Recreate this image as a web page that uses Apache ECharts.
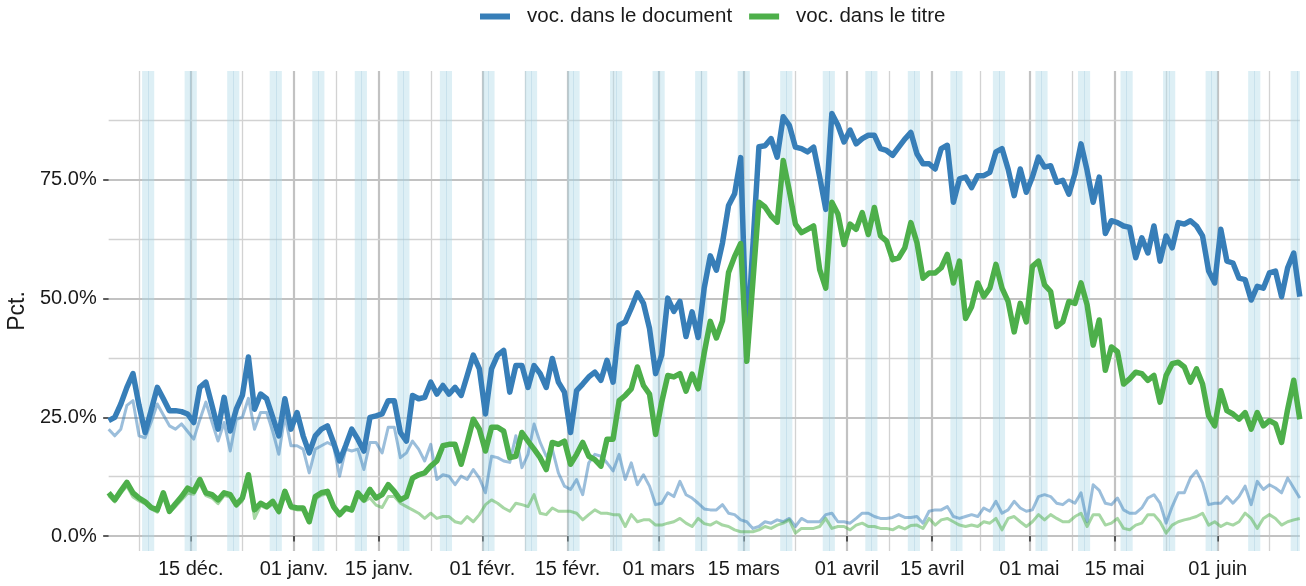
<!DOCTYPE html>
<html><head><meta charset="utf-8">
<script src="https://cdn.jsdelivr.net/npm/echarts@6/dist/echarts.min.js"></script>
<style>html,body{margin:0;padding:0;background:#fff}#c{width:1306px;height:586px}</style>
</head><body><div id="c"></div><script>
// first plotted day (index 0); each value is one day
const startDate = '2019-12-01';
const tickDates = ['2019-12-15','2020-01-01','2020-01-15','2020-02-01','2020-02-15','2020-03-01','2020-03-15','2020-04-01','2020-04-15','2020-05-01','2020-05-15','2020-06-01'];
const tickLabels = ['15 déc.','01 janv.','15 janv.','01 févr.','15 févr.','01 mars','15 mars','01 avril','15 avril','01 mai','15 mai','01 juin'];
const yTicks = [0, 25, 50, 75];
const yMinorTicks = [12.5, 37.5, 62.5, 87.5];

const docMain = [
24.3,25.0,27.8,31.3,34.2,27.5,21.8,26.5,31.3,28.9,
26.4,26.4,26.2,25.7,23.9,31.3,32.4,27.5,22.5,29.2,
22.1,26.7,29.6,37.7,26.7,29.9,28.9,25.0,21.1,28.9,
22.5,26.0,21.1,17.5,21.1,22.5,23.2,19.7,15.8,19.0,
22.5,20.4,17.9,25.0,25.3,25.7,28.5,28.5,21.8,20.0,
29.6,28.9,29.2,32.4,29.9,31.7,29.9,31.3,29.6,33.8,
38.1,35.2,25.7,35.2,38.1,39.1,30.3,35.9,35.9,31.3,
35.9,34.2,31.3,37.4,32.4,30.3,21.8,30.6,32.0,33.5,
34.5,32.8,37.0,32.4,44.4,45.1,48.0,51.2,49.0,43.7,
34.2,38.1,50.1,47.3,49.4,42.0,47.2,41.8,52.3,59.0,
56.0,61.7,69.6,72.1,79.7,40.0,61.0,82.0,82.2,83.7,
79.8,88.3,86.5,81.9,81.6,80.9,81.9,75.6,68.8,89.0,
86.5,83.0,85.5,82.6,83.7,84.4,84.4,81.6,81.2,80.2,
81.9,83.6,85.0,80.5,78.4,78.4,77.3,81.6,82.3,70.3,
75.2,75.6,73.4,75.9,75.9,76.6,80.9,81.6,77.3,71.7,
77.3,72.4,75.6,79.8,77.7,78.0,74.5,74.9,72.0,76.3,
82.6,77.0,70.3,75.6,63.7,66.4,66.0,65.3,65.0,58.6,
62.8,59.6,65.3,57.9,63.2,60.7,66.0,65.7,66.4,65.3,
63.2,55.8,53.3,64.6,57.9,57.5,54.3,54.0,49.7,52.6,
52.2,55.4,55.8,50.4,56.5,59.6,50.4];

const titleMain = [
9.1,7.6,9.5,11.3,9.1,8.0,7.2,6.0,5.5,9.1,
5.2,6.8,8.3,10.1,9.4,11.9,9.1,8.7,7.6,9.1,
8.7,6.6,8.0,12.9,5.5,6.9,6.2,7.3,5.2,9.4,
6.2,5.9,5.9,3.0,8.3,9.1,9.4,6.2,4.5,5.9,
5.5,9.1,7.6,9.8,8.0,8.7,10.8,9.4,7.6,8.3,
12.2,12.9,13.3,14.7,15.8,19.0,19.3,19.3,15.1,19.7,
24.6,22.5,17.9,22.9,22.9,22.1,16.5,16.8,21.8,20.0,
18.3,16.5,14.0,19.7,19.3,20.0,15.1,17.2,19.7,16.8,
16.1,14.7,20.4,20.4,28.5,29.6,31.0,35.6,31.7,29.9,
21.4,28.2,33.8,33.5,34.2,30.5,34.1,31.0,38.6,45.2,
41.7,45.3,55.5,58.9,61.6,36.8,53.5,70.3,69.3,67.4,
66.1,79.1,72.7,65.7,63.9,64.6,65.3,56.1,52.2,70.3,
67.8,61.4,65.7,64.6,68.1,63.5,69.2,63.2,62.1,58.2,
58.6,60.7,66.0,61.8,54.3,55.4,55.4,56.5,59.3,53.3,
57.9,45.8,48.3,53.3,50.4,52.2,57.2,52.2,49.4,43.0,
49.0,45.1,56.8,57.9,52.9,51.5,44.1,45.1,49.4,49.0,
53.3,48.7,40.2,45.5,34.9,39.8,38.8,32.0,33.1,34.5,
34.2,32.8,33.8,28.2,33.8,36.3,36.6,35.6,32.4,35.2,
32.0,25.3,23.2,30.6,26.4,25.7,24.6,26.0,22.5,26.0,
23.2,24.3,23.6,19.7,26.7,32.8,24.6];

const docLight = [
22.5,21.1,22.5,27.5,28.5,21.1,20.7,24.0,27.8,25.5,
23.2,22.5,23.6,22.0,20.4,24.5,28.2,24.0,20.0,23.9,
17.9,24.6,25.0,29.0,22.5,26.0,26.0,22.0,17.2,25.3,
19.0,19.0,18.3,13.3,18.3,19.0,19.7,19.0,12.6,18.3,
17.9,18.3,14.0,19.7,19.7,17.5,22.9,22.9,16.5,17.5,
20.0,18.3,15.8,19.3,11.9,12.9,12.6,10.8,12.6,11.9,
14.0,12.2,9.1,16.8,16.5,15.8,15.5,21.1,14.4,17.2,
23.6,19.7,16.8,18.3,13.3,10.5,9.8,11.9,8.7,15.4,
17.2,16.8,15.4,13.7,17.2,11.9,15.4,10.8,12.9,10.5,
6.6,6.9,9.1,8.3,11.5,8.7,8.0,6.9,5.7,5.5,
5.5,6.6,4.8,4.5,3.4,3.0,1.6,2.0,3.0,2.7,
3.4,3.0,3.7,2.0,3.7,3.0,3.0,3.0,4.5,4.8,
3.0,3.0,2.7,3.7,4.8,4.8,4.1,3.7,3.7,3.9,
4.5,3.9,3.9,4.1,2.7,5.2,5.5,5.5,6.2,4.1,
3.7,4.1,4.5,4.1,5.9,5.2,7.3,4.8,5.5,7.3,
5.9,5.2,5.5,8.3,8.7,8.3,6.9,6.6,7.6,6.9,
9.1,3.0,10.8,9.6,6.9,6.6,8.0,5.5,4.8,4.8,
5.9,8.0,8.7,6.9,2.7,6.2,9.1,9.1,12.2,13.7,
11.2,6.6,6.9,6.9,8.3,6.9,8.3,10.5,6.6,11.5,
9.8,10.8,10.1,9.1,12.2,10.1,8.0];

const titleLight = [
8.5,7.2,9.0,10.5,8.2,7.4,6.8,5.7,5.0,8.4,
5.0,6.2,7.6,9.0,8.8,11.0,8.5,8.0,6.8,8.5,
8.2,6.2,7.4,12.0,3.7,6.4,5.8,6.8,4.8,8.8,
5.8,5.5,5.5,2.8,7.8,8.6,8.9,5.8,4.2,5.5,
5.2,8.5,7.2,8.0,6.5,6.0,8.3,8.3,6.9,6.2,
5.5,4.8,3.7,4.8,3.7,4.1,4.1,3.0,2.7,4.1,
3.0,4.5,6.6,7.6,6.9,5.9,5.2,6.9,6.6,6.2,
8.7,4.8,4.5,5.9,5.2,5.2,5.2,4.8,3.4,4.5,
5.5,4.8,4.8,4.5,4.5,2.0,4.5,3.0,3.4,3.4,
2.3,2.3,2.7,3.0,3.7,2.7,2.0,3.7,2.6,2.3,
3.0,2.3,2.0,1.3,0.9,0.9,0.9,1.3,2.0,1.6,
2.3,2.7,3.4,0.6,1.6,1.6,1.6,2.0,3.7,1.6,
2.0,2.0,1.3,2.3,2.7,2.0,2.0,1.6,1.6,1.3,
2.0,1.5,2.2,2.3,1.6,3.7,2.3,3.4,3.7,3.0,
2.3,2.0,2.3,2.0,3.0,2.7,3.7,1.3,3.7,4.1,
3.0,2.0,3.0,4.5,3.4,4.5,3.7,3.0,3.0,4.1,
4.8,2.0,4.5,4.5,2.3,2.7,3.7,1.6,1.3,2.3,
2.7,4.5,4.5,3.0,0.6,2.3,3.0,3.4,3.7,4.1,
4.8,2.3,3.0,2.0,2.7,2.3,3.0,4.8,3.7,1.6,
3.7,4.5,3.7,2.3,3.0,3.4,3.7];

const BLUE = '#377eb8', GREEN = '#4daf4a';
const FONT = '"Liberation Sans", Arial, Helvetica, sans-serif';
const TXT = '#1a1a1a';

const DAY = 86400000;
const t0 = Date.parse(startDate + 'T00:00:00Z');
const dayOf = s => (Date.parse(s + 'T00:00:00Z') - t0) / DAY;
const n = docMain.length;
const xMin = 0.5, xMax = n - 0.5;   // points sit at mid-day
const majors = tickDates.map(dayOf);
// ggplot-style minor breaks (midpoints, extended by first gap)
const bd = majors[1] - majors[0];
const ext = [majors[0] - bd].concat(majors, [majors[majors.length - 1] + bd]);
const minors = [];
for (let k = 0; k < ext.length - 1; k++) {
  const m = (ext[k] + ext[k + 1]) / 2;
  if (m > xMin && m < xMax) minors.push(m);
}
// weekend bands (Saturday 00:00 -> Monday 00:00)
const bands = [], seams = [];
for (let i = 0; i < n; i++) {
  const dow = new Date(t0 + i * DAY).getUTCDay();
  if (dow === 6) {
    bands.push([{ xAxis: Math.max(i, xMin) }, { xAxis: Math.min(i + 2, xMax) }]);
    if (i + 1 < xMax) seams.push({ xAxis: i + 1 });
  }
}
const pts = arr => arr.map((v, i) => [i + 0.5, v]);

const majorStyle = { color: '#c2c2c2', width: 2.2, type: 'solid' };
const minorStyle = { color: '#d2d2d2', width: 1.3, type: 'solid' };
const gridLines = []
  .concat(minors.map(v => ({ xAxis: v, lineStyle: minorStyle })))
  .concat(majors.map(v => ({ xAxis: v, lineStyle: majorStyle })))
  .concat(yMinorTicks.map(v => ({ yAxis: v, lineStyle: minorStyle })))
  .concat(yTicks.map(v => ({ yAxis: v, lineStyle: majorStyle })));

const chart = echarts.init(document.getElementById('c'), null, { renderer: 'canvas' });
chart.setOption({
  backgroundColor: '#ffffff',
  animation: false,
  textStyle: { fontFamily: FONT },
  legend: {
    data: ['voc. dans le document', 'voc. dans le titre'],
    left: 480, top: 6, padding: 0,
    icon: 'rect', itemWidth: 30, itemHeight: 6, itemGap: 17,
    textStyle: { fontFamily: FONT, fontSize: 20.5, color: TXT, padding: [0, 0, 0, 12] }
  },
  grid: { left: 108.66, right: 6.2, top: 71, bottom: 35, containLabel: false, outerBoundsMode: 'none' },
  xAxis: {
    type: 'value', min: xMin, max: xMax,
    axisLine: { show: false },
    splitLine: { show: false },
    axisTick: { show: true, customValues: majors, length: 5.5, lineStyle: { color: '#333', width: 1.6 } },
    axisLabel: {
      show: true, customValues: majors, margin: 8,
      fontFamily: FONT, fontSize: 20, color: TXT,
      formatter: v => { const k = majors.indexOf(v); return k >= 0 ? tickLabels[k] : ''; }
    }
  },
  yAxis: {
    type: 'value', min: -3.16, max: 97.94,
    name: 'Pct.', nameLocation: 'middle', nameRotate: 90, nameGap: 75,
    nameTextStyle: { fontFamily: FONT, fontSize: 23, color: TXT },
    axisLine: { show: false },
    splitLine: { show: false },
    axisTick: { show: true, customValues: yTicks, length: 5.5, lineStyle: { color: '#333', width: 1.6 } },
    axisLabel: {
      show: true, customValues: yTicks, margin: 12,
      fontFamily: FONT, fontSize: 20, color: TXT,
      formatter: v => v.toFixed(1) + '%'
    }
  },
  series: [
    {
      name: '_grid', type: 'line', data: [], silent: true,
      markLine: { silent: true, z: 0, symbol: ['none', 'none'], label: { show: false }, animation: false, data: gridLines }
    },
    {
      name: '_weekend', type: 'line', data: [], silent: true,
      markArea: { silent: true, z: 1, itemStyle: { color: 'rgba(173,216,230,0.42)' }, label: { show: false }, data: bands },
      markLine: { silent: true, z: 1, symbol: ['none', 'none'], label: { show: false },
        lineStyle: { color: 'rgba(160,200,220,0.35)', width: 1, type: 'solid' }, data: seams }
    },
    {
      name: 'voc. dans le document (autre)', type: 'line', z: 2, data: pts(docLight),
      showSymbol: false, symbol: 'none', color: BLUE,
      lineStyle: { color: BLUE, width: 3, opacity: 0.5, join: 'round', cap: 'butt' }
    },
    {
      name: 'voc. dans le titre (autre)', type: 'line', z: 2, data: pts(titleLight),
      showSymbol: false, symbol: 'none', color: GREEN,
      lineStyle: { color: GREEN, width: 3, opacity: 0.5, join: 'round', cap: 'butt' }
    },
    {
      name: 'voc. dans le document', type: 'line', z: 3, data: pts(docMain),
      showSymbol: false, symbol: 'none', color: BLUE,
      lineStyle: { color: BLUE, width: 5.5, join: 'round', cap: 'butt' }
    },
    {
      name: 'voc. dans le titre', type: 'line', z: 3, data: pts(titleMain),
      showSymbol: false, symbol: 'none', color: GREEN,
      lineStyle: { color: GREEN, width: 5.5, join: 'round', cap: 'butt' }
    }
  ]
});
</script></body></html>
